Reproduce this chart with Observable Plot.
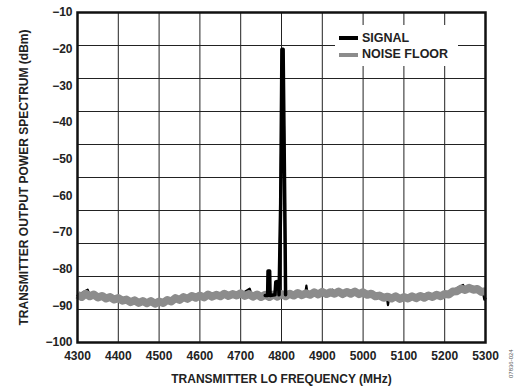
<!DOCTYPE html>
<html>
<head>
<meta charset="utf-8">
<script src="https://cdn.jsdelivr.net/npm/d3@7"></script>
<script src="https://cdn.jsdelivr.net/npm/@observablehq/plot@0.6"></script>
<style>
  html, body { margin: 0; padding: 0; background: #fff; }
  #wrap { position: relative; width: 525px; height: 389px; overflow: hidden; font-family: "Liberation Sans", Arial, sans-serif; }
  #legend { position: absolute; left: 335px; top: 25px; width: 123px; height: 41px; background: #fff; }
  .sw { position: absolute; left: 4px; width: 19px; height: 4px; }
  .lt { position: absolute; left: 27px; font-size: 12.5px; font-weight: bold; color: #222; line-height: 14px; white-space: nowrap; }
  #code { position: absolute; left: 508px; font-size: 6px; color: #555; transform: rotate(-90deg); transform-origin: left top; white-space: nowrap; }
</style>
</head>
<body>
<div id="wrap">
  <div id="chart"></div>
  <div id="legend">
    <div class="sw" style="top:11px;background:#000;"></div>
    <div class="lt" style="top:6px;">SIGNAL</div>
    <div class="sw" style="top:28px;background:#8c8c8c;"></div>
    <div class="lt" style="top:22px;">NOISE FLOOR</div>
  </div>
  <div id="code" style="top:378px;">07836-024</div>
</div>
<script>
const xTicks = [4300, 4400, 4500, 4600, 4700, 4800, 4900, 5000, 5100, 5200, 5300];
const yTicks = [-10, -20, -30, -40, -50, -60, -70, -80, -90, -100];
const xGrid = [4300, 4400, 4500, 4600, 4700, 4800, 4900, 5000, 5100, 5200, 5300];
const yGrid = [-10, -19, -28, -37, -46, -55, -64, -73, -82, -91, -100];

const noiseFreq = [4300, 4310, 4320, 4330, 4340, 4350, 4360, 4370, 4380, 4390, 4400, 4410, 4420, 4430, 4440, 4450, 4460, 4470, 4480, 4490, 4500, 4510, 4520, 4530, 4540, 4550, 4560, 4570, 4580, 4590, 4600, 4610, 4620, 4630, 4640, 4650, 4660, 4670, 4680, 4690, 4700, 4710, 4720, 4730, 4740, 4750, 4760, 4770, 4780, 4790, 4800, 4810, 4820, 4830, 4840, 4850, 4860, 4870, 4880, 4890, 4900, 4910, 4920, 4930, 4940, 4950, 4960, 4970, 4980, 4990, 5000, 5010, 5020, 5030, 5040, 5050, 5060, 5070, 5080, 5090, 5100, 5110, 5120, 5130, 5140, 5150, 5160, 5170, 5180, 5190, 5200, 5210, 5220, 5230, 5240, 5250, 5260, 5270, 5280, 5290, 5300];
const noiseDbm = [-87.0, -87.6, -86.7, -87.4, -86.9, -87.7, -87.3, -88.0, -87.6, -88.3, -87.9, -88.6, -88.3, -89.0, -88.5, -89.2, -88.7, -89.3, -88.7, -89.4, -88.8, -89.2, -88.4, -88.8, -87.9, -88.4, -87.6, -88.1, -87.3, -87.8, -87.2, -87.7, -86.9, -87.5, -87.0, -87.4, -86.7, -87.3, -86.8, -87.2, -86.6, -87.3, -86.8, -87.5, -86.9, -87.6, -87.0, -87.6, -86.9, -87.5, -86.8, -87.4, -86.7, -87.2, -86.5, -87.1, -86.6, -87.0, -86.3, -86.9, -86.2, -86.8, -86.3, -86.7, -86.1, -86.8, -86.2, -86.7, -86.1, -86.8, -86.3, -87.0, -86.7, -87.4, -87.2, -87.8, -87.5, -88.0, -87.4, -88.1, -87.6, -88.0, -87.4, -87.9, -87.3, -87.8, -87.2, -87.6, -87.0, -87.4, -86.8, -86.9, -86.1, -86.0, -85.3, -85.7, -85.1, -85.6, -85.4, -86.2, -86.0];

const signalFreq = [4300, 4325, 4330, 4400, 4460, 4500, 4560, 4600, 4640, 4660, 4665, 4700, 4722, 4727, 4760, 4766, 4767, 4771, 4772, 4784, 4786, 4792, 4794, 4798, 4801, 4804, 4808, 4810, 4820, 4858, 4861, 4864, 4900, 4925, 4930, 4960, 5000, 5040, 5058, 5061, 5064, 5100, 5157, 5162, 5200, 5245, 5250, 5270, 5293, 5297, 5300];
const signalDbm = [-87.2, -85.6, -87.2, -88.0, -88.9, -89.0, -87.8, -87.3, -87.1, -86.2, -87.0, -86.9, -85.3, -87.0, -87.2, -87.2, -80.5, -80.5, -87.2, -87.0, -83.5, -83.3, -87.0, -62, -20, -20, -62, -87.0, -86.9, -86.8, -84.5, -86.8, -86.5, -85.6, -86.5, -86.4, -86.6, -87.5, -87.7, -89.8, -87.8, -87.8, -86.7, -87.4, -87.0, -84.3, -85.5, -85.4, -85.8, -88.3, -88.0];

const noise = noiseFreq.map((f, i) => ({f, v: noiseDbm[i]}));
const signal = signalFreq.map((f, i) => ({f, v: signalDbm[i]}));
const signalPeak = signal.filter(d => d.f >= 4760 && d.f <= 4815);

const chart = Plot.plot({
  width: 525,
  height: 389,
  marginLeft: 77,
  marginRight: 40,
  marginTop: 12,
  marginBottom: 47,
  style: {fontFamily: "'Liberation Sans', Arial, sans-serif", fontSize: "12px", fontWeight: "bold", color: "#222", background: "#fff"},
  x: {domain: [4300, 5300]},
  y: {domain: [-100, -10]},
  marks: [
    Plot.ruleX(xGrid, {stroke: "#222", strokeWidth: 1}),
    Plot.ruleY(yGrid, {stroke: "#222", strokeWidth: 1}),
    Plot.line(signal, {x: "f", y: "v", stroke: "#000", strokeWidth: 2.2}),
    Plot.line(noise, {x: "f", y: "v", stroke: "#8c8c8c", strokeWidth: 8, strokeLinejoin: "round", strokeLinecap: "butt"}),
    Plot.line(signalPeak, {x: "f", y: "v", stroke: "#000", strokeWidth: 3.5, strokeLinejoin: "round"}),
    Plot.axisX(xTicks, {tickSize: 0, tickPadding: 9, tickFormat: d => String(d), label: "TRANSMITTER LO FREQUENCY (MHz)", labelAnchor: "center", labelOffset: 40, labelArrow: "none"}),
    Plot.axisY(yTicks, {tickSize: 0, tickPadding: 5, label: "TRANSMITTER OUTPUT POWER SPECTRUM (dBm)", labelAnchor: "center", labelOffset: 58, labelArrow: "none"}),
    Plot.frame({stroke: "#111", strokeWidth: 2.5})
  ]
});
document.getElementById("chart").appendChild(chart);
</script>
</body>
</html>
